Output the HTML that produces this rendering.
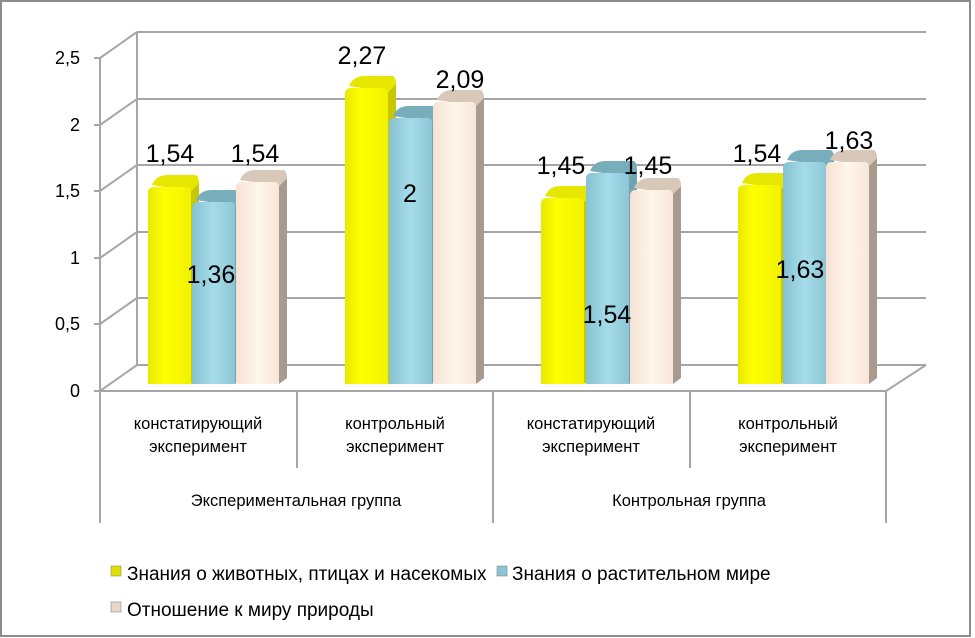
<!DOCTYPE html>
<html><head><meta charset="utf-8"><style>
body{margin:0;background:#fff}
svg{display:block;font-family:"Liberation Sans",sans-serif}
</style></head><body>
<svg width="975" height="638" viewBox="0 0 975 638">
<defs>
<linearGradient id="y" x1="0" x2="1"><stop offset="0" stop-color="#e8e800"/><stop offset=".35" stop-color="#ffff00"/><stop offset="1" stop-color="#f2f200"/></linearGradient>
<linearGradient id="b" x1="0" x2="1"><stop offset="0" stop-color="#86c2d2"/><stop offset=".5" stop-color="#a6dcea"/><stop offset="1" stop-color="#8cc6d6"/></linearGradient>
<linearGradient id="p" x1="0" x2="1"><stop offset="0" stop-color="#f6e2d4"/><stop offset=".5" stop-color="#fff6ea"/><stop offset="1" stop-color="#f8e6d8"/></linearGradient>
</defs>
<rect x="1" y="1" width="969" height="635" fill="#fff" stroke="#8c8c8c" stroke-width="2"/>
<g stroke="#a6a6a6" stroke-width="2" fill="none">
<path d="M137 32H926M137 99H926M137 165H926M137 232H926M137 298H926M137 365H926"/>
<path d="M137 32V365M100 58L137 32M100 125L137 99M100 191L137 165M100 258L137 232M100 324L137 298M100 391L137 365M886 391L926 365"/>
<path d="M100 58V391M94 58H100M94 125H100M94 191H100M94 258H100M94 324H100M94 391H886"/>
<path d="M100 391V523M297 391V468M493 391V523M690 391V468M886 391V523"/>
</g>
<g font-size="18" fill="#000" text-anchor="end">
<text x="80" y="64">2,5</text><text x="80" y="131">2</text><text x="80" y="197">1,5</text><text x="80" y="264">1</text><text x="80" y="330">0,5</text><text x="80" y="397">0</text>
</g>
<g transform="translate(148,187)"><path d="M43 4L51 -4V191L43 197Z" fill="#c8c800"/><path d="M4 -2Q8 -12 20 -12H48Q51 -10 51 -4L43 4Z" fill="#e6e600"/><path d="M0 6Q0 0 6 0H39Q43 0 43 6V197H0Z" fill="url(#y)"/></g>
<g transform="translate(345,88)"><path d="M43 4L51 -4V290L43 296Z" fill="#c8c800"/><path d="M4 -2Q8 -12 20 -12H48Q51 -10 51 -4L43 4Z" fill="#e6e600"/><path d="M0 6Q0 0 6 0H39Q43 0 43 6V296H0Z" fill="url(#y)"/></g>
<g transform="translate(541,198)"><path d="M43 4L51 -4V180L43 186Z" fill="#c8c800"/><path d="M4 -2Q8 -12 20 -12H48Q51 -10 51 -4L43 4Z" fill="#e6e600"/><path d="M0 6Q0 0 6 0H39Q43 0 43 6V186H0Z" fill="url(#y)"/></g>
<g transform="translate(738,185)"><path d="M43 4L51 -4V193L43 199Z" fill="#c8c800"/><path d="M4 -2Q8 -12 20 -12H48Q51 -10 51 -4L43 4Z" fill="#e6e600"/><path d="M0 6Q0 0 6 0H39Q43 0 43 6V199H0Z" fill="url(#y)"/></g>
<g transform="translate(192,202)"><path d="M43 4L51 -4V176L43 182Z" fill="#6fa4b2"/><path d="M4 -2Q8 -12 20 -12H48Q51 -10 51 -4L43 4Z" fill="#78aebb"/><path d="M0 6Q0 0 6 0H39Q43 0 43 6V182H0Z" fill="url(#b)"/></g>
<g transform="translate(389,118)"><path d="M43 4L51 -4V260L43 266Z" fill="#6fa4b2"/><path d="M4 -2Q8 -12 20 -12H48Q51 -10 51 -4L43 4Z" fill="#78aebb"/><path d="M0 6Q0 0 6 0H39Q43 0 43 6V266H0Z" fill="url(#b)"/></g>
<g transform="translate(586,173)"><path d="M43 4L51 -4V205L43 211Z" fill="#6fa4b2"/><path d="M4 -2Q8 -12 20 -12H48Q51 -10 51 -4L43 4Z" fill="#78aebb"/><path d="M0 6Q0 0 6 0H39Q43 0 43 6V211H0Z" fill="url(#b)"/></g>
<g transform="translate(783,162)"><path d="M43 4L51 -4V216L43 222Z" fill="#6fa4b2"/><path d="M4 -2Q8 -12 20 -12H48Q51 -10 51 -4L43 4Z" fill="#78aebb"/><path d="M0 6Q0 0 6 0H39Q43 0 43 6V222H0Z" fill="url(#b)"/></g>
<g transform="translate(236,182)"><path d="M43 4L51 -4V196L43 202Z" fill="#a89a8e"/><path d="M4 -2Q8 -12 20 -12H48Q51 -10 51 -4L43 4Z" fill="#d8c8ba"/><path d="M0 6Q0 0 6 0H39Q43 0 43 6V202H0Z" fill="url(#p)"/></g>
<g transform="translate(433,102)"><path d="M43 4L51 -4V276L43 282Z" fill="#a89a8e"/><path d="M4 -2Q8 -12 20 -12H48Q51 -10 51 -4L43 4Z" fill="#d8c8ba"/><path d="M0 6Q0 0 6 0H39Q43 0 43 6V282H0Z" fill="url(#p)"/></g>
<g transform="translate(630,190)"><path d="M43 4L51 -4V188L43 194Z" fill="#a89a8e"/><path d="M4 -2Q8 -12 20 -12H48Q51 -10 51 -4L43 4Z" fill="#d8c8ba"/><path d="M0 6Q0 0 6 0H39Q43 0 43 6V194H0Z" fill="url(#p)"/></g>
<g transform="translate(826,162)"><path d="M43 4L51 -4V216L43 222Z" fill="#a89a8e"/><path d="M4 -2Q8 -12 20 -12H48Q51 -10 51 -4L43 4Z" fill="#d8c8ba"/><path d="M0 6Q0 0 6 0H39Q43 0 43 6V222H0Z" fill="url(#p)"/></g>
<g font-size="25" fill="#000" text-anchor="middle">
<text x="170" y="162">1,54</text><text x="255" y="162">1,54</text><text x="211" y="283">1,36</text>
<text x="362" y="64">2,27</text><text x="410" y="202">2</text><text x="460" y="88">2,09</text>
<text x="561" y="174">1,45</text><text x="648" y="174">1,45</text><text x="607" y="323">1,54</text>
<text x="757" y="162">1,54</text><text x="849" y="149">1,63</text><text x="800" y="278">1,63</text>
</g>
<g font-size="16.5" fill="#000" text-anchor="middle">
<text x="198" y="429">констатирующий</text><text x="198" y="452">эксперимент</text>
<text x="395" y="429">контрольный</text><text x="395" y="452">эксперимент</text>
<text x="591" y="429">констатирующий</text><text x="591" y="452">эксперимент</text>
<text x="788" y="429">контрольный</text><text x="788" y="452">эксперимент</text>
<text x="296" y="506">Экспериментальная группа</text>
<text x="689" y="506">Контрольная группа</text>
</g>
<g font-size="19" fill="#000">
<rect x="111" y="566" width="10" height="10" fill="#e0e000" stroke="#777" stroke-width=".5"/>
<text x="127" y="580">Знания о животных, птицах и насекомых</text>
<rect x="497" y="566" width="10" height="10" fill="#8cc6d6" stroke="#777" stroke-width=".5"/>
<text x="512" y="580">Знания о растительном мире</text>
<rect x="111" y="602" width="10" height="10" fill="#e8d8ca" stroke="#777" stroke-width=".5"/>
<text x="127" y="616">Отношение к миру природы</text>
</g>
</svg>
</body></html>
